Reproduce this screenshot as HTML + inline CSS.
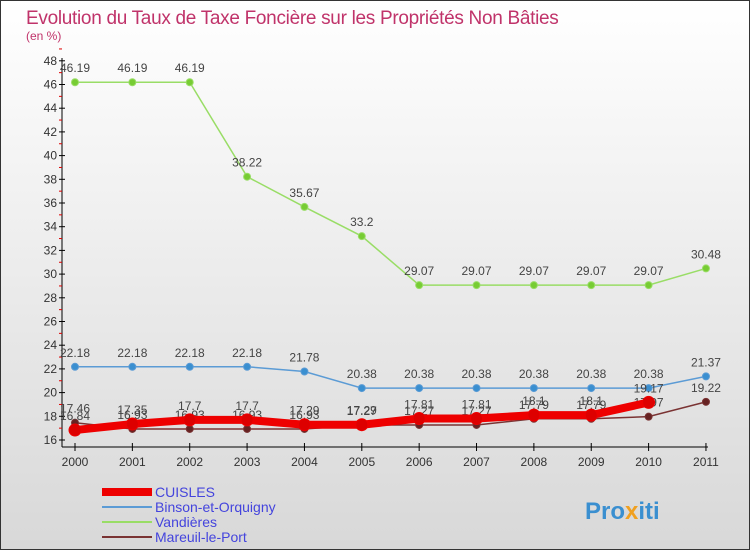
<!DOCTYPE html>
<html><head><meta charset="utf-8"><style>
body{margin:0;}
#c{width:750px;height:550px;position:relative;overflow:hidden;font-family:"Liberation Sans",sans-serif;}
</style></head><body>
<div id="c">
<svg id="s" width="750" height="550" xmlns="http://www.w3.org/2000/svg">
<defs><linearGradient id="bg" x1="0" y1="0" x2="0" y2="1"><stop offset="0" stop-color="#ffffff"/><stop offset="1" stop-color="#d8d8d8"/></linearGradient></defs>
<rect x="0.5" y="0.5" width="749" height="549" fill="url(#bg)" stroke="#333"/>
<text x="26" y="24" font-size="19" letter-spacing="-0.3" fill="#c0336a">Evolution du Taux de Taxe Foncière sur les Propriétés Non Bâties</text>
<text x="26" y="40" font-size="12" fill="#c0336a">(en %)</text>
<g id="axes"></g><g id="series"></g>
<g>
<line x1="102" y1="492" x2="152" y2="492" stroke="#ee0000" stroke-width="8"/>
<text x="155" y="497" font-size="14" fill="#4444dd">CUISLES</text>
<line x1="102" y1="507" x2="152" y2="507" stroke="#5b9bd5" stroke-width="2"/>
<text x="155" y="512" font-size="14" fill="#4444dd">Binson-et-Orquigny</text>
<line x1="102" y1="522" x2="152" y2="522" stroke="#99dd66" stroke-width="2"/>
<text x="155" y="527" font-size="14" fill="#4444dd">Vandières</text>
<line x1="102" y1="537" x2="152" y2="537" stroke="#7a3333" stroke-width="2"/>
<text x="155" y="542" font-size="14" fill="#4444dd">Mareuil-le-Port</text>
</g>
<text x="585" y="519" font-size="24" font-weight="bold" fill="#3a8fd0">Pro<tspan fill="#f0a020">x</tspan>iti</text>
</svg></div>
<script>
const years=[2000,2001,2002,2003,2004,2005,2006,2007,2008,2009,2010,2011];
const yTicks=[16,18,20,22,24,26,28,30,32,34,36,38,40,42,44,46,48];
const vandieres=[46.19,46.19,46.19,38.22,35.67,33.2,29.07,29.07,29.07,29.07,29.07,30.48];
const binson=[22.18,22.18,22.18,22.18,21.78,20.38,20.38,20.38,20.38,20.38,20.38,21.37];
const mareuil=[17.46,16.93,16.93,16.93,16.93,17.27,17.27,17.27,17.79,17.79,17.97,19.22];
const cuisles=[16.84,17.35,17.7,17.7,17.29,17.29,17.81,17.81,18.1,18.1,19.17];
const NS="http://www.w3.org/2000/svg";
const X=i=>75+i*57.36, Y=v=>440-(v-16)*11.85;
function mk(p,t,a){const e=document.createElementNS(NS,t);for(const k in a)e.setAttribute(k,a[k]);p.appendChild(e);return e;}
const ax=document.getElementById('axes'), sg=document.getElementById('series');
const yl=mk(ax,'line',{x1:62,y1:58,x2:62,y2:447,stroke:'#000'});


const xl=mk(ax,'line',{x1:62,y1:447,x2:708,y2:447,stroke:'#000'});


yTicks.forEach(v=>{
 mk(ax,'line',{x1:59,y1:Y(v),x2:65,y2:Y(v),stroke:'#000'});
 mk(ax,'line',{x1:59,y1:Y(v+1),x2:62,y2:Y(v+1),stroke:'#d00'});
 const t=mk(ax,'text',{x:57,y:Y(v)+4,'font-size':12,'text-anchor':'end',fill:'#333'});t.textContent=v;
 
 
});
years.forEach((y,i)=>{
 mk(ax,'line',{x1:X(i),y1:443,x2:X(i),y2:451,stroke:'#000'});
 const t=mk(ax,'text',{x:X(i),y:466,'font-size':12,'text-anchor':'middle',fill:'#333'});t.textContent=y;
 
 
});
function series(data,col,dot,w,r,name){
 const g=mk(sg,'g',{});
 
 
 mk(g,'polyline',{points:data.map((v,i)=>X(i)+','+Y(v)).join(' '),fill:'none',stroke:col,'stroke-width':w});
 data.forEach((v,i)=>{
  const c=mk(g,'circle',{cx:X(i),cy:Y(v),r:r,fill:dot,stroke:col,'stroke-width':1});
  
  
  const t=mk(g,'text',{x:X(i),y:Y(v)-10,'font-size':12,'text-anchor':'middle',fill:'#444'});t.textContent=v;
 });
}
series(vandieres,'#99dd66','#77cc33',1.5,3.5,'vandieres-series');
series(binson,'#5b9bd5','#3a8fd0',1.5,3.5,'binson-series');
series(mareuil,'#7a3333','#662222',1.5,3.5,'mareuil-series');
series(cuisles,'#ee0000','#dd0000',8,6,'cuisles-series');
</script>
</body></html>
